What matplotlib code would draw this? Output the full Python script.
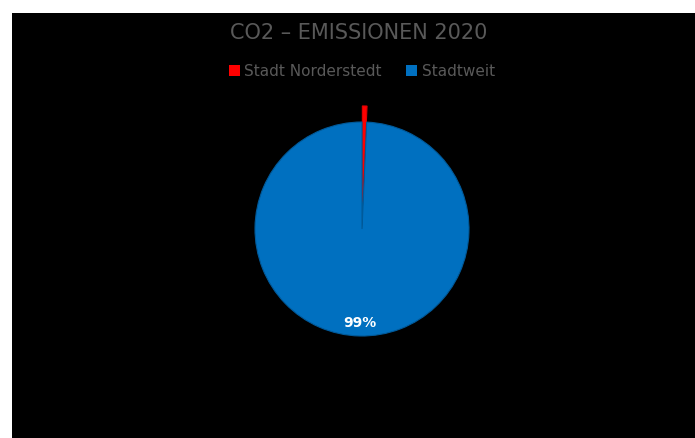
import matplotlib.pyplot as plt
from matplotlib.patches import Rectangle

labels = ['Stadt Norderstedt', 'Stadtweit']
shares = [0.7, 99.3]
colors = ['#FF0000', '#0070C0']
edges = ['#E00000', '#005A9A']

W, H = 695, 438
fig = plt.figure(figsize=(W / 100, H / 100), dpi=100)
fig.patch.set_facecolor('white')
fig.patches.append(Rectangle((12 / W, 0), 1 - 12 / W, 1 - 13 / H,
                             transform=fig.transFigure, facecolor='black',
                             edgecolor='none', zorder=-10))

cx, cy, r = 362, 229, 107
ax = fig.add_axes([(cx - r) / W, (H - cy - r) / H, 2 * r / W, 2 * r / H])


def pct(p):
    return '%d%%' % round(p) if p > 5 else ''


wedges, texts = ax.pie(shares, colors=colors, startangle=90, counterclock=False,
                       explode=[0.15, 0], radius=1, autopct=pct, pctdistance=0.88,
                       textprops=dict(color='white', fontsize=10, fontweight='bold'),
                       wedgeprops=dict(linewidth=0.8))[:2]
for w, e in zip(wedges, edges):
    w.set_clip_on(False)
    w.set_edgecolor(e)
ax.set_xlim(-1, 1)
ax.set_ylim(-1, 1)
ax.axis('off')

fig.text(359 / W, 1 - 33 / H, 'CO2 – EMISSIONEN 2020', ha='center', va='center',
         color='#595959', fontsize=15)
handles = [Rectangle((0, 0), 1, 1, facecolor=c) for c in colors]
fig.legend(handles, labels, loc='center', bbox_to_anchor=(362 / W, 1 - 71 / H),
           ncol=2, frameon=False, fontsize=11, labelcolor='#595959',
           handlelength=0.7, handleheight=0.7, handletextpad=0.3, columnspacing=1.6)

fig.savefig('out.png', dpi=100, facecolor=fig.get_facecolor())
